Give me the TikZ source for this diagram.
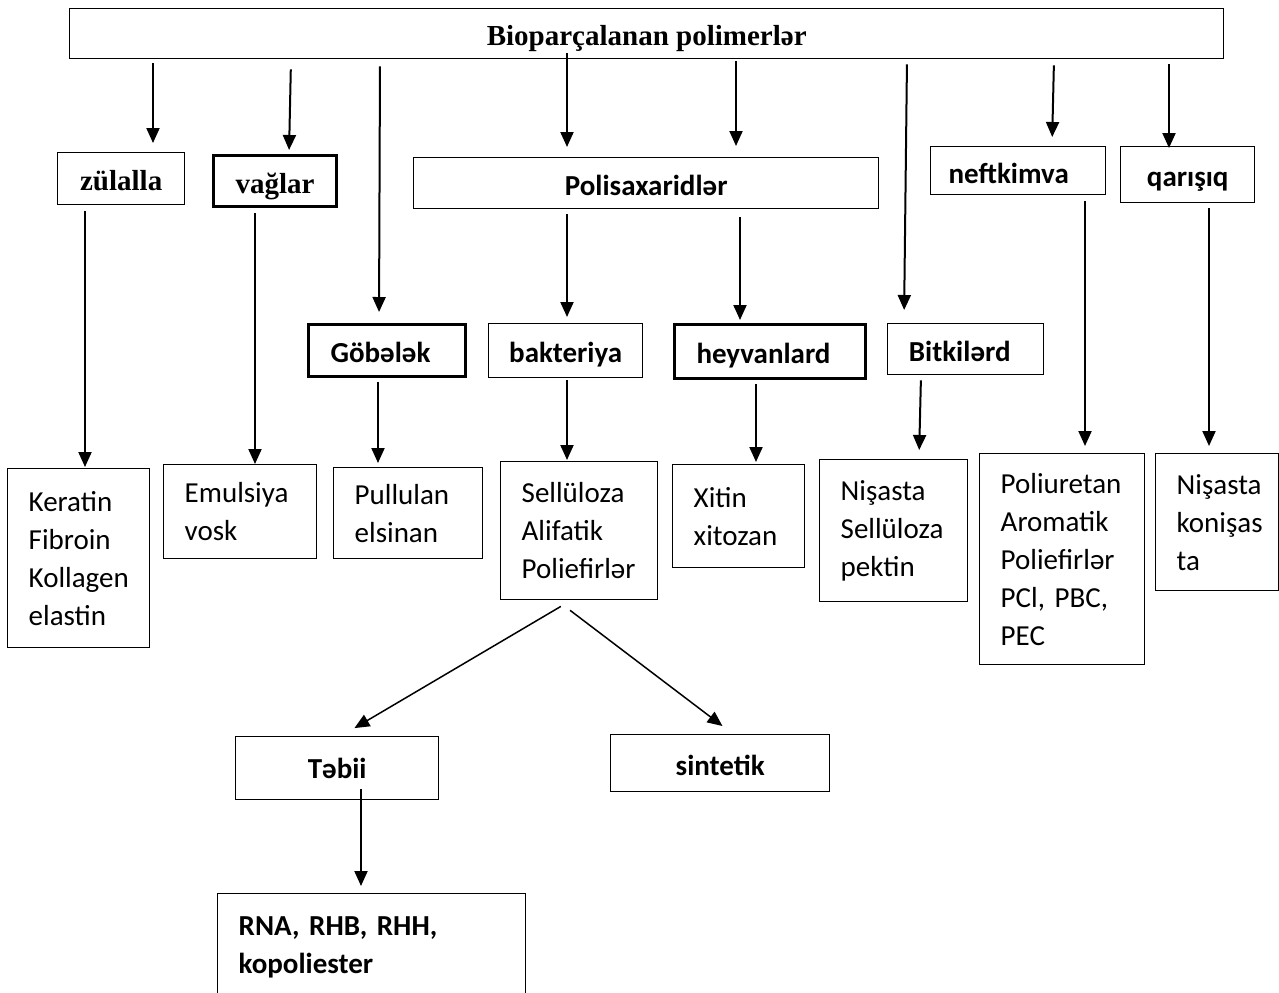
\documentclass[tikz,border=0pt]{standalone}
\usepackage{fontspec}
\setmainfont{Carlito}
\newfontfamily\timesfont{Liberation Serif}
\usetikzlibrary{arrows.meta}

\begin{document}
\begin{tikzpicture}[x=0.5pt, y=-0.5pt,
    box/.style={draw, line width=0.7pt, anchor=north west, inner sep=0pt,
        text height=12pt, text depth=0pt, font=\fontsize{14.5}{19}\selectfont\bfseries},
    thick box/.style={box, line width=1.5pt},
    serif/.style={font=\fontsize{14.5}{19}\selectfont\timesfont\bfseries},
    list box/.style={draw, line width=0.7pt, anchor=north west, inner xsep=10.5pt,
        inner ysep=0pt, align=left, font=\fontsize{14.5}{19}\selectfont},
    arr/.style={-{Triangle[width=6.5pt,length=7.5pt]}, line width=1pt},
    diag/.style={-{Triangle[width=6.5pt,length=7.5pt]}, line width=0.75pt}]

\path[use as bounding box, fill=white] (0,0) rectangle (1279,992);

% top
\node[box, serif, minimum width=577pt, minimum height=25pt] (top) at (69,8) {Bioparçalanan polimerlər};

% first row
\node[box, serif, minimum width=63.5pt, minimum height=26pt] (zul) at (57,152) {zülalla};
\node[thick box, serif, minimum width=61.5pt, minimum height=25.5pt] (vag) at (212,154) {vağlar};
\node[box, minimum width=232.5pt, minimum height=25.5pt] (pol) at (413,157) {Polisaxaridlər};
\node[box, minimum width=87.5pt, minimum height=24pt, text height=13pt] (neft) at (930,146) {neftkimva\hspace*{9.5pt}};
\node[box, minimum width=67pt, minimum height=28pt] (qar) at (1120,146) {qarışıq};

% second row
\node[thick box, minimum width=78.5pt, minimum height=26pt] (gob) at (307,323) {Göbələk\hspace*{6.5pt}};
\node[box, minimum width=77pt, minimum height=27pt] (bak) at (488,323) {bakteriya};
\node[thick box, minimum width=95.5pt, minimum height=27pt] (hey) at (673,323) {heyvanlard\hspace*{6.5pt}};
\node[box, minimum width=78pt, minimum height=25.5pt] (bit) at (887,323) {Bitkilərd\hspace*{6pt}};

% lists
\node[list box, text width=50pt, minimum height=89.5pt] (ker) at (7,468) {Keratin\\Fibroin\\Kollagen\\elastin};
\node[list box, text width=55.5pt, minimum height=47pt] (emu) at (163,464) {Emulsiya\\vosk};
\node[list box, text width=53.5pt, minimum height=45.5pt] (pul) at (333,467) {Pullulan\\elsinan};
\node[list box, text width=57.5pt, minimum height=69pt] (sel) at (500,461) {Sellüloza\\Alifatik\\Poliefirlər};
\node[list box, text width=45pt, minimum height=51.5pt] (xit) at (672,464) {Xitin\\xitozan};
\node[list box, text width=53pt, minimum height=71pt] (nis) at (819,459) {Nişasta\\Sellüloza\\pektin};
\node[list box, text width=61.5pt, minimum height=105.5pt] (pur) at (979,453) {Poliuretan\\Aromatik\\Poliefirlər\\PCl, PBC,\\PEC};
\node[list box, text width=40.5pt, minimum height=68.5pt] (nis2) at (1155,453) {Nişasta\\konişas\\ta};

% bottom
\node[box, minimum width=101.5pt, minimum height=31.5pt, text height=10.5pt] (teb) at (235,736) {Təbii};
\node[box, minimum width=109.5pt, minimum height=28.5pt] (sin) at (610,734) {sintetik};
\node[list box, font=\fontsize{14.5}{19}\selectfont\bfseries, text width=133pt, minimum height=54pt] (rna) at (217,893) {RNA, RHB, RHH,\\kopoliester};

% arrows from top
\draw[arr, shorten <=2pt, shorten >=4.5pt] (top.south -| 153,0) -- (zul.north -| 153,0);
\draw[arr, shorten <=5pt, shorten >=2pt] (top.south -| 291,0) -- (vag.north -| 289,0);
\draw[arr, shorten <=3.5pt, shorten >=5.5pt] (top.south -| 380,0) -- (gob.north -| 379,0);
\draw[arr, shorten <=-3pt, shorten >=5pt] (top.south -| 567,0) -- (pol.north -| 567,0);
\draw[arr, shorten <=1pt, shorten >=5.5pt] (top.south -| 736,0) -- (pol.north -| 736,0);
\draw[arr, shorten <=2.5pt, shorten >=6.5pt] (top.south -| 907,0) -- (bit.north -| 904,0);
\draw[arr, shorten <=3pt, shorten >=4.5pt] (top.south -| 1054,0) -- (neft.north -| 1052,0);
\draw[arr, shorten <=2.5pt, shorten >=-1pt] (top.south -| 1169,0) -- (qar.north -| 1169,0);

% second level
\draw[arr, shorten <=3pt, shorten >=0.5pt] (zul.south -| 85,0) -- (ker.north -| 85,0);
\draw[arr, shorten <=2.5pt] (vag.south -| 255,0) -- (emu.north -| 255,0);
\draw[arr, shorten <=2.5pt, shorten >=3pt] (pol.south -| 567,0) -- (bak.north -| 567,0);
\draw[arr, shorten <=4pt, shorten >=1.5pt] (pol.south -| 740,0) -- (hey.north -| 740,0);
\draw[arr, shorten <=3pt, shorten >=3.5pt] (neft.south -| 1085,0) -- (pur.north -| 1085,0);
\draw[arr, shorten <=2.5pt, shorten >=3.5pt] (qar.south -| 1209,0) -- (nis2.north -| 1209,0);

% third level
\draw[arr, shorten <=2pt, shorten >=2pt] (gob.south -| 378,0) -- (pul.north -| 378,0);
\draw[arr, shorten <=1pt, shorten >=0.5pt] (bak.south -| 567,0) -- (sel.north -| 567,0);
\draw[arr, shorten <=2pt, shorten >=1pt] (hey.south -| 756,0) -- (xit.north -| 756,0);
\draw[arr, shorten <=2.5pt, shorten >=4.5pt] (bit.south -| 921,0) -- (nis.north -| 919,0);

% natural / synthetic
\draw[diag, shorten <=5.9pt, shorten >=7.8pt] (sel.south -| 571,0) -- (teb.north -| 341,0);
\draw[diag, shorten <=8.2pt, shorten >=6.6pt] (sel.south -| 557,0) -- (sin.north -| 733,0);
\draw[arr, shorten <=-5.5pt, shorten >=3.5pt] (teb.south -| 361,0) -- (rna.north -| 361,0);
\end{tikzpicture}
\end{document}
